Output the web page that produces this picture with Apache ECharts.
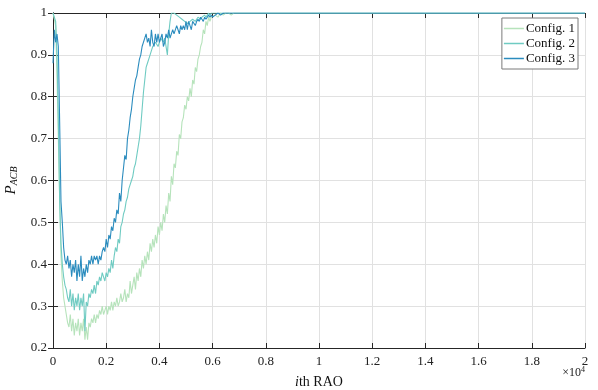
<!DOCTYPE html>
<html>
<head>
<meta charset="utf-8">
<script src="https://cdn.jsdelivr.net/npm/echarts@6/dist/echarts.min.js"></script>
<style>
  html, body { margin: 0; padding: 0; background: #fff; }
  #chart { width: 598px; height: 390px; }
</style>
</head>
<body>
<div id="chart"></div>
<script>
// RAO index (x) shared by all three configs: every 50 up to 6000, then coarser
const raoIdx = [
  0, 50, 100, 150, 200, 250, 300, 350, 400, 450,
  500, 550, 600, 650, 700, 750, 800, 850, 900, 950,
  1000, 1050, 1100, 1150, 1200, 1250, 1300, 1350, 1400, 1450,
  1500, 1550, 1600, 1650, 1700, 1750, 1800, 1850, 1900, 1950,
  2000, 2050, 2100, 2150, 2200, 2250, 2300, 2350, 2400, 2450,
  2500, 2550, 2600, 2650, 2700, 2750, 2800, 2850, 2900, 2950,
  3000, 3050, 3100, 3150, 3200, 3250, 3300, 3350, 3400, 3450,
  3500, 3550, 3600, 3650, 3700, 3750, 3800, 3850, 3900, 3950,
  4000, 4050, 4100, 4150, 4200, 4250, 4300, 4350, 4400, 4450,
  4500, 4550, 4600, 4650, 4700, 4750, 4800, 4850, 4900, 4950,
  5000, 5050, 5100, 5150, 5200, 5250, 5300, 5350, 5400, 5450,
  5500, 5550, 5600, 5650, 5700, 5750, 5800, 5850, 5900, 5950,
  6000,
  6100, 6200, 6300, 6400, 6500, 6600, 6700, 6800, 6900, 7000, 7500, 20000];

const config1 = [
  1.0, 1.0, 0.97, 0.85, 0.70, 0.56, 0.42, 0.36, 0.32, 0.30,
  0.28, 0.26, 0.25, 0.28, 0.24, 0.27, 0.23, 0.26, 0.24, 0.27,
  0.23, 0.26, 0.24, 0.27, 0.22, 0.25, 0.22, 0.26, 0.25, 0.27,
  0.26, 0.28, 0.26, 0.28, 0.27, 0.29, 0.28, 0.30, 0.28, 0.29,
  0.30, 0.28, 0.30, 0.29, 0.31, 0.29, 0.31, 0.30, 0.32, 0.30,
  0.31, 0.33, 0.31, 0.32, 0.34, 0.31, 0.33, 0.32, 0.36, 0.33,
  0.35, 0.37, 0.34, 0.38, 0.36, 0.39, 0.37, 0.41, 0.39, 0.42,
  0.40, 0.43, 0.41, 0.45, 0.43, 0.46, 0.44, 0.47, 0.45, 0.49,
  0.47, 0.50, 0.48, 0.52, 0.50, 0.54, 0.52, 0.57, 0.55, 0.61,
  0.59, 0.64, 0.63, 0.67, 0.66, 0.71, 0.70, 0.74, 0.75, 0.78,
  0.77, 0.80, 0.79, 0.82, 0.80, 0.84, 0.83, 0.87, 0.86, 0.89,
  0.90, 0.92, 0.93, 0.96, 0.95, 0.98, 0.97, 0.99, 0.98, 0.99,
  0.99,
  0.995, 0.99, 1.0, 0.995, 1.0, 1.0, 0.995, 1.0, 1.0, 1.0, 1.0, 1.0];

const config2 = [
  1.0, 1.0, 0.98, 0.90, 0.75, 0.55, 0.45, 0.40, 0.37, 0.35,
  0.34, 0.32, 0.31, 0.34, 0.30, 0.33, 0.29, 0.32, 0.30, 0.33,
  0.29, 0.32, 0.30, 0.33, 0.24, 0.31, 0.30, 0.33, 0.32, 0.34,
  0.33, 0.35, 0.33, 0.36, 0.35, 0.37, 0.36, 0.38, 0.37, 0.36,
  0.38, 0.37, 0.39, 0.38, 0.41, 0.39, 0.42, 0.44, 0.43, 0.46,
  0.45, 0.49, 0.50, 0.52, 0.53, 0.55, 0.56, 0.58, 0.59, 0.60,
  0.61, 0.63, 0.64, 0.66, 0.68, 0.70, 0.73, 0.77, 0.81, 0.84,
  0.87, 0.88, 0.89, 0.90, 0.91, 0.92, 0.92, 0.93, 0.93, 0.92,
  0.93, 0.94, 0.94, 0.93, 0.94, 0.92, 0.90, 0.95, 0.98, 1.0,
  1.0, 1.0, 1.0, 0.995, 0.995, 0.99, 0.99, 0.985, 0.985, 0.98,
  0.98, 0.975, 0.975, 0.98, 0.98, 0.985, 0.985, 0.98, 0.985, 0.99,
  0.99, 0.985, 0.99, 0.99, 0.995, 0.99, 0.995, 1.0, 0.995, 1.0,
  1.0,
  1.0, 1.0, 1.0, 1.0, 1.0, 1.0, 1.0, 1.0, 1.0, 1.0, 1.0, 1.0];

const config3 = [
  0.88, 0.96, 0.93, 0.95, 0.92, 0.74, 0.55, 0.50, 0.44, 0.41,
  0.40, 0.42, 0.39, 0.41, 0.37, 0.40, 0.38, 0.41, 0.36, 0.40,
  0.37, 0.42, 0.36, 0.39, 0.37, 0.40, 0.38, 0.41, 0.40, 0.42,
  0.40, 0.42, 0.41, 0.42, 0.40, 0.42, 0.41, 0.43, 0.44, 0.43,
  0.46, 0.44, 0.47, 0.46, 0.49, 0.48, 0.51, 0.50, 0.53, 0.52,
  0.57, 0.55, 0.60, 0.63, 0.66, 0.65, 0.70, 0.72, 0.75, 0.77,
  0.80, 0.82, 0.84, 0.85, 0.87, 0.89, 0.90, 0.92, 0.92, 0.94,
  0.95, 0.93, 0.94, 0.92, 0.96, 0.93, 0.92, 0.95, 0.93, 0.95,
  0.93, 0.94, 0.95, 0.92, 0.93, 0.95, 0.94, 0.96, 0.94, 0.95,
  0.96, 0.95, 0.95, 0.97, 0.96, 0.95, 0.97, 0.96, 0.97, 0.96,
  0.98, 0.96, 0.98, 0.97, 0.96, 0.98, 0.98, 0.97, 0.98, 0.985,
  0.98, 0.99, 0.985, 0.98, 0.99, 0.985, 0.99, 0.995, 0.99, 0.995,
  0.99,
  0.995, 1.0, 0.995, 1.0, 1.0, 1.0, 1.0, 1.0, 1.0, 1.0, 1.0, 1.0];

const seriesNames = ["Config. 1", "Config. 2", "Config. 3"];
const colors = ["#b6e3bb", "#6fcbc2", "#2b8cbe"];

const font = "Liberation Serif";
const axisColor = "#262626";
const gridColor = "#e1e1e1";

const pair = (ys) => raoIdx.map((x, i) => [x, ys[i]]);

const chart = echarts.init(document.getElementById("chart"));

const xBase = {
  type: "value",
  min: 0,
  max: 20000,
  interval: 2000,
  axisLine: { lineStyle: { color: axisColor, width: 1 } },
  axisTick: { inside: true, length: 5, lineStyle: { color: axisColor } },
};
const yBase = {
  type: "value",
  min: 0.2,
  max: 1,
  interval: 0.1,
  axisLine: { show: true, lineStyle: { color: axisColor, width: 1 } },
  axisTick: { show: true, inside: true, length: 5, lineStyle: { color: axisColor } },
};

chart.setOption({
  animation: false,
  backgroundColor: "#fff",
  color: colors,
  grid: { left: 53, right: 13, top: 13, bottom: 42, outerBoundsMode: "none" },
  legend: {
    data: seriesNames,
    orient: "vertical",
    right: 20,
    top: 18,
    backgroundColor: "#fff",
    borderColor: "#7a7a7a",
    borderWidth: 1,
    borderRadius: 0,
    padding: [4, 3, 4, 2],
    itemGap: 2,
    itemWidth: 20,
    itemHeight: 1.5,
    icon: "rect",
    textStyle: { fontFamily: font, fontSize: 13, color: "#111", padding: [0, 0, 0, -3] },
  },
  xAxis: [
    {
      ...xBase,
      position: "bottom",
      name: "{i|i}th RAO",
      nameLocation: "middle",
      nameGap: 27,
      nameTextStyle: {
        fontFamily: font, fontSize: 14, color: "#111",
        rich: { i: { fontFamily: font, fontSize: 14, fontStyle: "italic", color: "#111" } },
      },
      axisLabel: {
        fontFamily: font, fontSize: 13, color: "#222", margin: 7,
        formatter: (v) => String(+(v / 10000).toFixed(1)),
      },
      splitLine: { show: true, lineStyle: { color: gridColor, width: 1 } },
    },
    {
      ...xBase,
      position: "top",
      axisLabel: { show: false },
      splitLine: { show: false },
    },
  ],
  yAxis: [
    {
      ...yBase,
      position: "left",
      name: "{p|P}{s|ACB}",
      nameLocation: "middle",
      nameGap: 28,
      nameTextStyle: {
        rich: {
          p: { fontFamily: font, fontSize: 15, fontStyle: "italic", color: "#111" },
          s: { fontFamily: font, fontSize: 10, fontStyle: "italic", color: "#111", verticalAlign: "bottom", padding: [7, 0, 0, 0] },
        },
      },
      axisLabel: {
        fontFamily: font, fontSize: 13, color: "#222", margin: 6,
        formatter: (v) => String(+v.toFixed(1)),
      },
      splitLine: { show: true, lineStyle: { color: gridColor, width: 1 } },
    },
    {
      ...yBase,
      position: "right",
      axisLabel: { show: false },
      splitLine: { show: false },
    },
  ],
  graphic: [
    {
      type: "text",
      right: 13,
      top: 366,
      style: {
        text: "×10{sup|4}",
        fontFamily: font,
        fontSize: 12,
        fill: "#222",
        rich: { sup: { fontFamily: font, fontSize: 8, fill: "#222", verticalAlign: "top", padding: [0, 0, 6, 0] } },
      },
    },
  ],
  series: seriesNames.map((name, k) => ({
    name,
    type: "line",
    data: pair([config1, config2, config3][k]),
    showSymbol: false,
    symbol: "none",
    lineStyle: { width: 1.1 },
    z: 2 + k,
  })),
});
</script>
</body>
</html>
